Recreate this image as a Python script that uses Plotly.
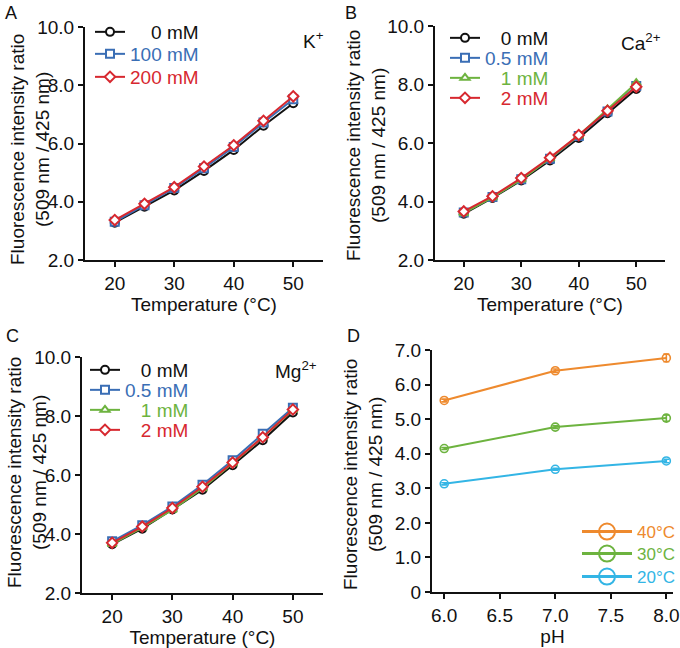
import plotly.graph_objects as go

# ---------------- data ----------------
temps = [20, 25, 30, 35, 40, 45, 50]

k_0 = [3.28, 3.83, 4.39, 5.06, 5.78, 6.61, 7.38]
k_100 = [3.31, 3.88, 4.47, 5.15, 5.88, 6.72, 7.52]
k_200 = [3.37, 3.93, 4.50, 5.21, 5.94, 6.78, 7.62]

ca_0 = [3.58, 4.12, 4.72, 5.40, 6.17, 7.02, 7.85]
ca_05 = [3.62, 4.15, 4.76, 5.46, 6.24, 7.08, 7.95]
ca_1 = [3.60, 4.14, 4.75, 5.47, 6.26, 7.15, 8.05]
ca_2 = [3.66, 4.18, 4.80, 5.50, 6.27, 7.10, 7.92]

mg_0 = [3.65, 4.18, 4.83, 5.50, 6.33, 7.18, 8.12]
mg_05 = [3.75, 4.30, 4.93, 5.67, 6.50, 7.40, 8.28]
mg_1 = [3.66, 4.22, 4.82, 5.55, 6.40, 7.28, 8.20]
mg_2 = [3.70, 4.25, 4.88, 5.60, 6.42, 7.28, 8.22]

ph = [6.0, 7.0, 8.0]
t40 = [5.54, 6.40, 6.77]
t40_err = [0.04, 0.05, 0.11]
t30 = [4.15, 4.77, 5.03]
t30_err = [0.03, 0.04, 0.09]
t20 = [3.13, 3.55, 3.79]
t20_err = [0.03, 0.03, 0.05]

temp_ticks = [20, 30, 40, 50]
ratio_ticks = [2, 4, 6, 8, 10]
ph_ticks = [6.0, 6.5, 7.0, 7.5, 8.0]
d_yticks = [0, 1, 2, 3, 4, 5, 6, 7]
d_yticktext = ["0", "1.0", "2.0", "3.0", "4.0", "5.0", "6.0", "7.0"]

# ---------------- style ----------------
W, H = 680, 648
FONT = "Liberation Sans, Arial, sans-serif"
BLACK = "#111111"
BLUE = "#3A6EB5"
GREEN = "#6DB33F"
RED = "#D7282F"
ORANGE = "#EE8A2E"
CYAN = "#33B5E5"
NB = "\u00a0"


def px(x):
    return x / W


def py(y):
    return 1 - y / H


fig = go.Figure()
legends = {}
legend_count = [0]


def new_legend(x_px, y_px, itemwidth=30, xanchor="left", size=19):
    legend_count[0] += 1
    n = legend_count[0]
    name = "legend" if n == 1 else f"legend{n}"
    legends[name] = dict(
        x=px(x_px), y=py(y_px), xanchor=xanchor, yanchor="middle",
        bgcolor="rgba(0,0,0,0)", borderwidth=0, itemwidth=itemwidth,
        font=dict(family=FONT, size=size, color=BLACK),
        itemclick=False, itemdoubleclick=False,
    )
    return name


def label(text, color):
    return f'<span style="color:{color}">{text}</span>'


def add_series(xa, ya, x, y, text, color, symbol, leg_x, leg_y):
    lg = new_legend(leg_x, leg_y)
    fig.add_trace(go.Scatter(
        x=x, y=y, xaxis=xa, yaxis=ya, mode="lines+markers",
        name=label(text, color), legend=lg,
        line=dict(color=color, width=2),
        marker=dict(symbol=symbol, size=8, color="white",
                    line=dict(color=color, width=2)),
    ))


# Panel A (K+)
add_series("x", "y", temps, k_0, NB * 4 + "0 mM", BLACK, "circle", 90, 32)
add_series("x", "y", temps, k_100, "100 mM", BLUE, "square", 90, 54)
add_series("x", "y", temps, k_200, "200 mM", RED, "diamond", 90, 77)

# Panel B (Ca2+)
add_series("x2", "y2", temps, ca_0, NB * 3 + "0 mM", BLACK, "circle", 445, 38)
add_series("x2", "y2", temps, ca_05, "0.5 mM", BLUE, "square", 445, 58)
add_series("x2", "y2", temps, ca_1, NB * 3 + "1 mM", GREEN, "triangle-up", 445, 78)
add_series("x2", "y2", temps, ca_2, NB * 3 + "2 mM", RED, "diamond", 445, 98)

# Panel C (Mg2+)
add_series("x3", "y3", temps, mg_0, NB * 3 + "0 mM", BLACK, "circle", 85, 370)
add_series("x3", "y3", temps, mg_05, "0.5 mM", BLUE, "square", 85, 390)
add_series("x3", "y3", temps, mg_1, NB * 3 + "1 mM", GREEN, "triangle-up", 85, 410)
add_series("x3", "y3", temps, mg_2, NB * 3 + "2 mM", RED, "diamond", 85, 430)

# Panel D (pH)
for vals, errs, color, text, ly in [
    (t40, t40_err, ORANGE, "40°C", 532),
    (t30, t30_err, GREEN, "30°C", 554),
    (t20, t20_err, CYAN, "20°C", 577),
]:
    fig.add_trace(go.Scatter(
        x=ph, y=vals, xaxis="x4", yaxis="y4", mode="lines+markers",
        showlegend=False,
        line=dict(color=color, width=2),
        marker=dict(symbol="circle-open", size=8, color=color,
                    line=dict(color=color, width=1.6)),
        error_y=dict(type="data", array=errs, color=color, thickness=1.6, width=3),
    ))
    lg = new_legend(680, ly, itemwidth=50, xanchor="right", size=17)
    fig.add_trace(go.Scatter(
        x=[None], y=[None], xaxis="x4", yaxis="y4", mode="lines+markers",
        name=label(text, color), legend=lg,
        line=dict(color=color, width=3),
        marker=dict(symbol="circle-open", size=16, color=color,
                    line=dict(color=color, width=2)),
    ))

axis_common = dict(
    showline=True, linewidth=2, linecolor=BLACK, ticks="outside",
    ticklen=5, tickwidth=2, tickcolor=BLACK, showgrid=False, zeroline=False,
    automargin=False,
    tickfont=dict(family=FONT, size=19, color=BLACK),
    title_font=dict(family=FONT, size=19, color=BLACK),
)

# domains (pixel based)
dom = {
    "A": ([85, 323], [27, 260]),
    "B": ([435, 665], [26, 260]),
    "C": ([82, 323], [357, 593]),
    "D": ([432, 673], [350, 592]),
}


def xd(p):
    return [px(p[0]), px(p[1])]


def yd(p):
    return [py(p[1]), py(p[0])]


temp_x = dict(range=[15, 55], tickvals=temp_ticks, title=dict(text="Temperature (°C)", standoff=4))
ratio_y = dict(range=[2, 10], tickvals=ratio_ticks, tickformat=".1f")

fig.update_layout(
    width=W, height=H,
    margin=dict(l=0, r=0, t=0, b=0, autoexpand=False),
    paper_bgcolor="white", plot_bgcolor="white",
    font=dict(family=FONT, size=19, color=BLACK),
    xaxis=dict(domain=xd(dom["A"][0]), anchor="y", **temp_x, **axis_common),
    yaxis=dict(domain=yd(dom["A"][1]), anchor="x", **ratio_y, **axis_common),
    xaxis2=dict(domain=xd(dom["B"][0]), anchor="y2", **temp_x, **axis_common),
    yaxis2=dict(domain=yd(dom["B"][1]), anchor="x2", **ratio_y, **axis_common),
    xaxis3=dict(domain=xd(dom["C"][0]), anchor="y3", **temp_x, **axis_common),
    yaxis3=dict(domain=yd(dom["C"][1]), anchor="x3", **ratio_y, **axis_common),
    xaxis4=dict(domain=xd(dom["D"][0]), anchor="y4", range=[5.89, 8.06],
                tickvals=ph_ticks, tickformat=".1f",
                title=dict(text="pH", standoff=4), **axis_common),
    yaxis4=dict(domain=yd(dom["D"][1]), anchor="x4", range=[0, 7],
                tickvals=d_yticks, ticktext=d_yticktext, **axis_common),
    showlegend=True,
    **legends,
)

ytitle = "Fluorescence intensity ratio<br>(509 nm / 425 nm)"
annos = []
for xc, yc in [(30, 150), (366, 146), (27, 473), (363, 475)]:
    annos.append(dict(text=ytitle, x=px(xc), y=py(yc), xref="paper", yref="paper",
                      xanchor="center", yanchor="middle", textangle=-90,
                      showarrow=False, font=dict(family=FONT, size=19, color=BLACK)))
for t, xc, yc in [("A", 3, 13), ("B", 343, 13), ("C", 4, 336), ("D", 345, 336)]:
    annos.append(dict(text=t, x=px(xc), y=py(yc), xref="paper", yref="paper",
                      xanchor="left", yanchor="middle", showarrow=False,
                      font=dict(family=FONT, size=18, color=BLACK)))
for t, xr, yc in [("K<sup>+</sup>", 326, 40), ("Ca<sup>2+</sup>", 663, 42), ("Mg<sup>2+</sup>", 319, 370)]:
    annos.append(dict(text=t, x=px(xr), y=py(yc), xref="paper", yref="paper",
                      xanchor="right", yanchor="middle", showarrow=False,
                      font=dict(family=FONT, size=19, color=BLACK)))
fig.update_layout(annotations=annos)

fig.write_html("out.html", config={"displayModeBar": False},
               post_script="document.body.style.margin='0';")
